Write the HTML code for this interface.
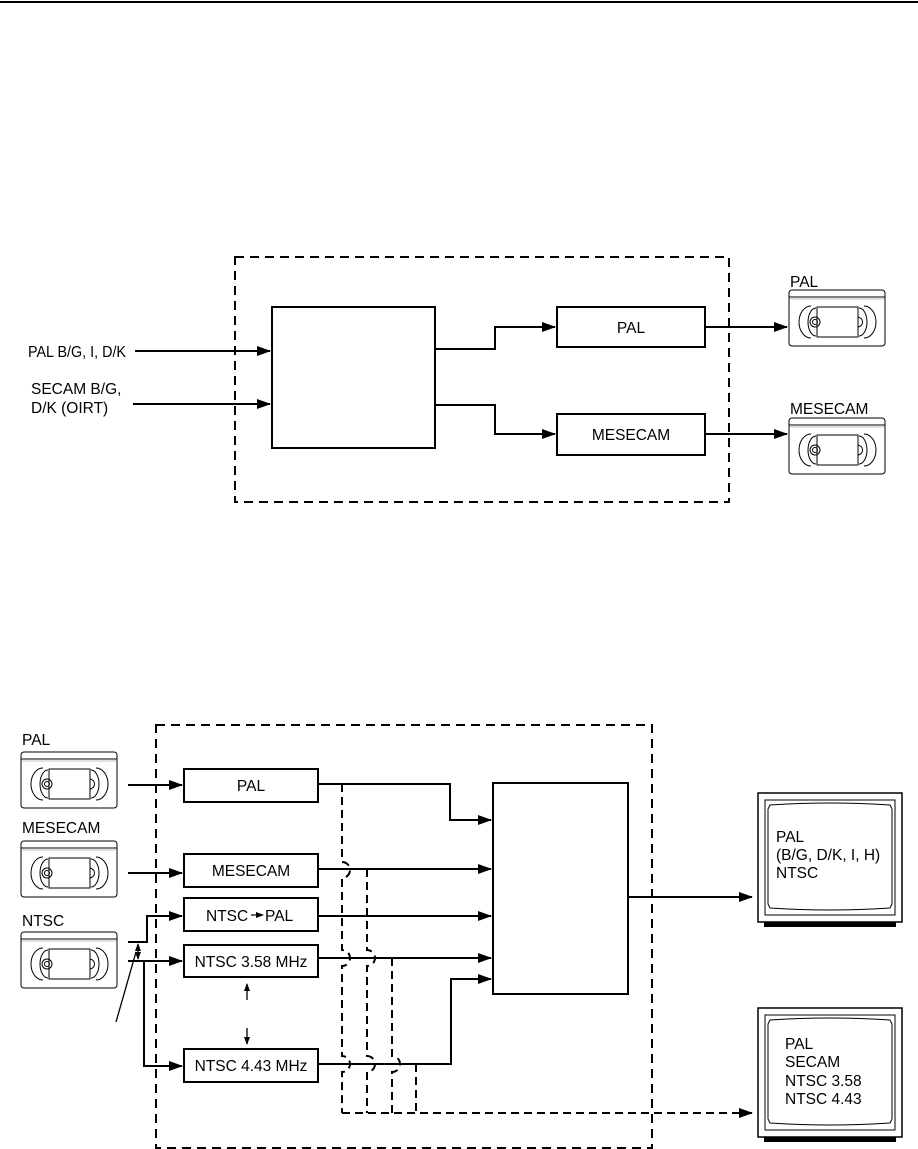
<!DOCTYPE html>
<html><head><meta charset="utf-8"><style>
html,body{margin:0;padding:0;background:#fff}
svg{display:block}
text{font-family:"Liberation Sans",Arial,sans-serif;font-size:15.5px;fill:#000}
</style></head><body>
<svg width="918" height="1149" viewBox="0 0 918 1149" xmlns="http://www.w3.org/2000/svg">
<defs>
<marker id="a" markerWidth="14" markerHeight="10" refX="13" refY="5" orient="auto" markerUnits="userSpaceOnUse"><path d="M0,0 L14,5 L0,10 z" fill="#000"/></marker>
<marker id="s" markerWidth="8" markerHeight="6" refX="7" refY="3" orient="auto-start-reverse" markerUnits="userSpaceOnUse"><path d="M0,0 L8,3 L0,6 z" fill="#000"/></marker>
<g id="vcr">
<rect x="0" y="0" width="96" height="56" rx="3" fill="#fff" stroke="#000" stroke-width="1"/>
<line x1="0" y1="7" x2="96" y2="7" stroke="#000" stroke-width="1"/>
<line x1="0" y1="9" x2="96" y2="9" stroke="#888" stroke-width="0.6"/>
<rect x="28" y="17" width="41" height="30" fill="#fff" stroke="#000"/>
<path d="M22,16 A12,16 0 0 0 22,48" fill="none" stroke="#000"/>
<path d="M27,18 A8,14 0 0 0 27,46" fill="none" stroke="#000"/>
<circle cx="26" cy="32" r="5" fill="none" stroke="#000"/>
<circle cx="26" cy="32" r="2.5" fill="none" stroke="#000"/>
<path d="M75,16 A12,16 0 0 1 75,48" fill="none" stroke="#000"/>
<path d="M70,18 A8,14 0 0 1 70,46" fill="none" stroke="#000"/>
<path d="M69,27 C75,28 75,36 69,37" fill="none" stroke="#000"/>
</g>
<g id="tv">
<rect x="0" y="0" width="144" height="129" fill="#fff" stroke="#000" stroke-width="1.5"/>
<rect x="7" y="7" width="130" height="115" fill="none" stroke="#000" stroke-width="1"/>
<path d="M12,12 Q72,8 132,12 L134,16 L134,111 L132,115 Q72,119 12,115 L10,111 L10,16 Z" fill="none" stroke="#000" stroke-width="1"/>
<rect x="6" y="129" width="132" height="5" fill="#000"/>
</g>
</defs>

<rect x="0" y="1" width="918" height="2" fill="#000"/>

<g fill="none" stroke="#000" stroke-width="2">
<rect x="235" y="257" width="494" height="245" stroke-dasharray="9,6"/>
<rect x="272" y="307" width="163" height="141"/>
<rect x="557" y="307" width="148" height="40"/>
<rect x="557" y="414" width="148" height="41"/>
<line x1="135" y1="351" x2="270" y2="351" marker-end="url(#a)"/>
<line x1="133" y1="404" x2="270" y2="404" marker-end="url(#a)"/>
<polyline points="435,349 495,349 495,327 555,327" marker-end="url(#a)"/>
<polyline points="435,405 495,405 495,434 555,434" marker-end="url(#a)"/>
<line x1="705" y1="327" x2="787" y2="327" marker-end="url(#a)"/>
<line x1="705" y1="434" x2="787" y2="434" marker-end="url(#a)"/>
</g>
<text x="28" y="357" textLength="98" lengthAdjust="spacingAndGlyphs">PAL B/G, I, D/K</text>
<text x="31" y="394">SECAM B/G,</text>
<text x="31" y="413">D/K (OIRT)</text>
<text x="631" y="333" text-anchor="middle">PAL</text>
<text x="631" y="440" text-anchor="middle">MESECAM</text>
<text x="790" y="287">PAL</text>
<text x="790" y="414">MESECAM</text>
<use href="#vcr" x="789" y="290"/>
<use href="#vcr" x="789" y="418"/>

<text x="22" y="745">PAL</text>
<text x="22" y="833">MESECAM</text>
<text x="22" y="926">NTSC</text>
<use href="#vcr" x="21" y="752"/>
<use href="#vcr" x="21" y="841"/>
<use href="#vcr" x="21" y="932"/>

<g fill="none" stroke="#000" stroke-width="2">
<rect x="156" y="725" width="496" height="423" stroke-dasharray="9,6"/>
<rect x="184" y="769" width="134" height="33"/>
<rect x="184" y="854" width="134" height="33"/>
<rect x="184" y="898" width="134" height="33"/>
<rect x="184" y="945" width="134" height="32"/>
<rect x="184" y="1049" width="134" height="33"/>
<rect x="493" y="783" width="135" height="211"/>
<line x1="128" y1="785" x2="182" y2="785" marker-end="url(#a)"/>
<line x1="128" y1="873" x2="182" y2="873" marker-end="url(#a)"/>
<polyline points="128,942 147,942 147,916 182,916" marker-end="url(#a)"/>
<line x1="128" y1="961" x2="182" y2="961" marker-end="url(#a)"/>
<polyline points="144,961 144,1066 182,1066" marker-end="url(#a)"/>

<polyline points="318,784 450,784 450,820 491,820" marker-end="url(#a)"/>
<line x1="318" y1="869" x2="491" y2="869" marker-end="url(#a)"/>
<line x1="318" y1="916" x2="491" y2="916" marker-end="url(#a)"/>
<line x1="318" y1="958" x2="491" y2="958" marker-end="url(#a)"/>
<polyline points="318,1064 451,1064 451,979 491,979" marker-end="url(#a)"/>
<line x1="628" y1="897" x2="752" y2="897" marker-end="url(#a)"/>

<g stroke-dasharray="8,5">
<path d="M342,784 V862 a8,8 0 0 1 0,16 V950 a8,8 0 0 1 0,16 V1056 a8,8 0 0 1 0,16 V1113"/>
<path d="M367,869 V950 a8,8 0 0 1 0,16 V1056 a8,8 0 0 1 0,16 V1113"/>
<path d="M392,958 V1056 a8,8 0 0 1 0,16 V1113"/>
<path d="M416,1064 V1113"/>
<line x1="342" y1="1113" x2="752" y2="1113" marker-end="url(#a)"/>
</g>
</g>
<g stroke="#000" stroke-width="1.3" fill="none">
<line x1="138" y1="944" x2="138" y2="959" marker-start="url(#s)" marker-end="url(#s)"/>
<line x1="136" y1="952" x2="116" y2="1022"/>
<line x1="247" y1="984" x2="247" y2="1000" marker-start="url(#s)"/>
<line x1="247" y1="1028" x2="247" y2="1044" marker-end="url(#s)"/>
</g>
<text x="251" y="791" text-anchor="middle">PAL</text>
<text x="251" y="876" text-anchor="middle">MESECAM</text>
<text x="206" y="921">NTSC</text>
<line x1="251" y1="915" x2="263" y2="915" stroke="#000" stroke-width="1.2" marker-end="url(#s)"/>
<text x="265" y="921">PAL</text>
<text x="251" y="967" text-anchor="middle">NTSC 3.58 MHz</text>
<text x="251" y="1071" text-anchor="middle">NTSC 4.43 MHz</text>

<use href="#tv" x="758" y="793"/>
<use href="#tv" x="758" y="1008"/>
<text x="776" y="842">PAL</text>
<text x="776" y="860">(B/G, D/K, I, H)</text>
<text x="776" y="878">NTSC</text>
<text x="785" y="1049">PAL</text>
<text x="785" y="1067">SECAM</text>
<text x="785" y="1086">NTSC 3.58</text>
<text x="785" y="1104">NTSC 4.43</text>
</svg>
</body></html>
